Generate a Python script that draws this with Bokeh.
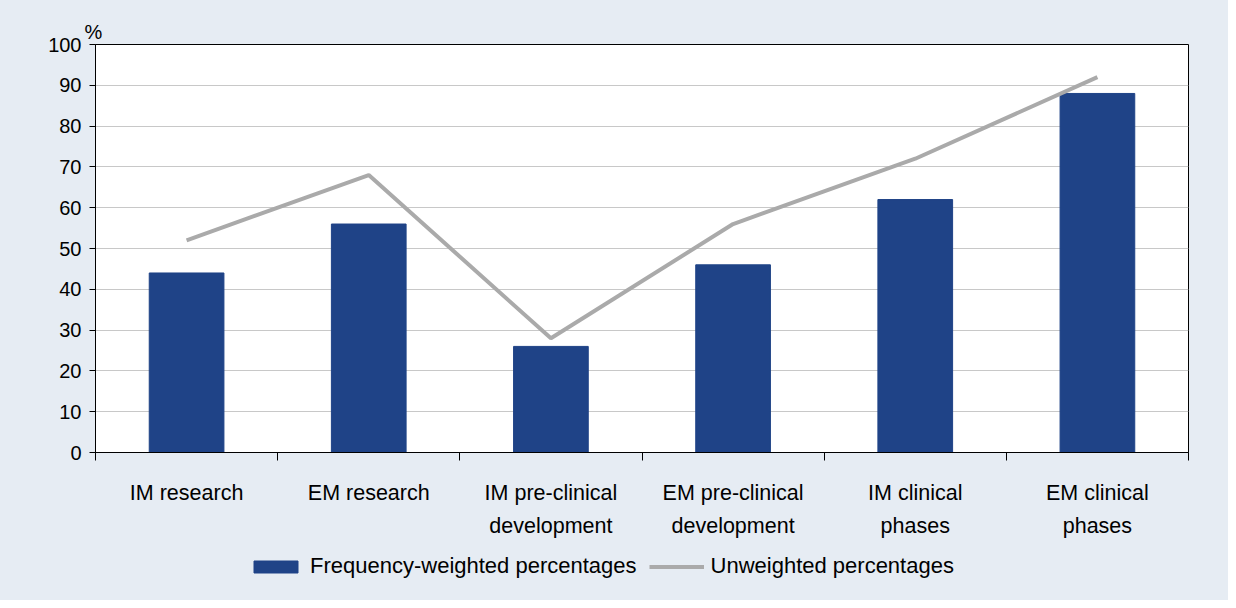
from bokeh.plotting import figure
from bokeh.layouts import column
from bokeh.models import Range1d, FixedTicker, LinearAxis, Title
from bokeh.embed import file_html
from bokeh.resources import INLINE

# ---- data ----
labels_line1 = ["IM research", "EM research", "IM pre-clinical", "EM pre-clinical", "IM clinical", "EM clinical"]
labels_line2 = ["", "", "development", "development", "phases", "phases"]
weighted = [44, 56, 26, 46, 62, 88]
unweighted = [52, 68, 28, 56, 72, 92]
y_ticks = [0, 10, 20, 30, 40, 50, 60, 70, 80, 90, 100]
series_names = ["Frequency-weighted percentages", "Unweighted percentages"]
unit_label = "%"

n = len(labels_line1)
positions = [i + 0.5 for i in range(n)]
boundaries = list(range(n + 1))

FONT = "Liberation Sans"
BG = "#E6ECF3"
BAR = "#1F4387"
LINE = "#AAAAAA"

p = figure(width=1228, height=545, output_backend="svg", toolbar_location=None,
           x_range=Range1d(0, n), y_range=Range1d(0, 100),
           min_border_left=95, min_border_right=40, min_border_top=44, min_border_bottom=93)
p.border_fill_color = BG
p.background_fill_color = "white"
p.outline_line_color = "black"
p.outline_line_width = 1

p.vbar(x=positions, top=weighted, width=0.41, fill_color=BAR, line_color=BAR)
p.line(positions, unweighted, line_width=4, line_color=LINE)

# y axis
ya = p.yaxis[0]
ya.ticker = FixedTicker(ticks=y_ticks)
ya.major_tick_out = 6
ya.major_tick_in = 0
ya.minor_tick_line_color = None
ya.axis_line_color = "black"
ya.major_tick_line_color = "black"
ya.major_label_text_font = FONT
ya.major_label_text_font_size = "20px"
ya.major_label_text_color = "black"
ya.major_label_standoff = 8

p.ygrid.ticker = FixedTicker(ticks=y_ticks[1:-1])
p.ygrid.grid_line_color = "#C8C8C8"
p.xgrid.visible = False

# x axis, first line of labels and boundary ticks
xa = p.xaxis[0]
xa.ticker = FixedTicker(ticks=positions, minor_ticks=boundaries)
xa.major_label_overrides = {pos: lab for pos, lab in zip(positions, labels_line1)}
xa.major_tick_in = 0
xa.major_tick_out = 0
xa.major_tick_line_color = None
xa.minor_tick_in = 0
xa.minor_tick_out = 8
xa.minor_tick_line_color = "black"
xa.axis_line_color = "black"
xa.major_label_text_font = FONT
xa.major_label_text_font_size = "21.5px"
xa.major_label_text_color = "black"
xa.major_label_standoff = 20

# second line of labels
xa2 = LinearAxis(ticker=FixedTicker(ticks=positions),
                 major_label_overrides={pos: lab for pos, lab in zip(positions, labels_line2)})
xa2.axis_line_color = None
xa2.major_tick_line_color = None
xa2.minor_tick_line_color = None
xa2.major_tick_out = 0
xa2.major_tick_in = 0
xa2.major_label_text_font = FONT
xa2.major_label_text_font_size = "21.5px"
xa2.major_label_text_color = "black"
xa2.major_label_standoff = 6
p.add_layout(xa2, "below")

# % unit label above the y axis
p.add_layout(Title(text=unit_label, align="left", offset=-11, standoff=4,
                   text_font=FONT, text_font_size="20px", text_font_style="normal",
                   text_color="black"), "above")

# ---- legend strip (same series, drawn out of its visible range) ----
lf = figure(width=1228, height=55, output_backend="svg", toolbar_location=None,
            x_axis_location=None, y_axis_location=None, min_border=0,
            x_range=Range1d(0, n), y_range=Range1d(1000, 1001))
lf.border_fill_color = BG
lf.background_fill_color = BG
lf.outline_line_color = None
lf.grid.visible = False
lf.vbar(x=positions, top=weighted, width=0.41, fill_color=BAR, line_color=BAR,
        legend_label=series_names[0])
lf.line(positions, unweighted, line_width=4, line_color=LINE, legend_label=series_names[1])

lg = lf.legend[0]
lg.orientation = "horizontal"
lg.location = (153, 21)
lg.background_fill_alpha = 0
lg.border_line_color = None
lg.padding = 0
lg.margin = 0
lg.spacing = 12
lg.label_standoff = 7
lg.glyph_width = 55
lg.glyph_height = 15
lg.label_text_font = FONT
lg.label_text_font_size = "22px"
lg.label_text_color = "black"

layout = column(p, lf, spacing=0, styles={"background-color": BG})
open("out.html", "w").write(file_html(layout, INLINE))
